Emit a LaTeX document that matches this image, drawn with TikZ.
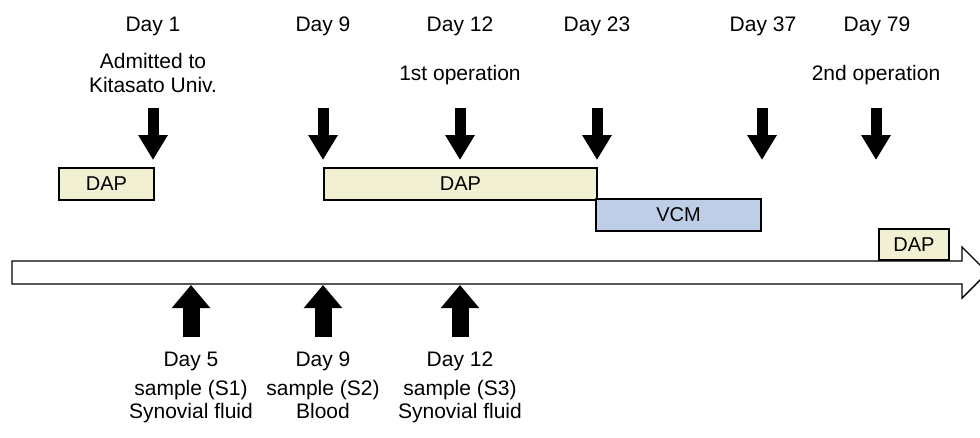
\documentclass[tikz,border=0pt]{standalone}
\usepackage{fontspec}
\setmainfont{Liberation Sans}
\usetikzlibrary{arrows.meta}

\definecolor{dapfill}{RGB}{242,240,210}
\definecolor{vcmfill}{RGB}{190,206,230}

\begin{document}
\begin{tikzpicture}[x=1pt,y=-1pt,
    font=\fontsize{21}{24}\selectfont,
    drug/.style={draw,line width=1.6pt,inner sep=0pt,font=\fontsize{20}{24}\selectfont},
    down/.style={line width=11pt,-{Triangle[width=28pt,length=25pt]}},
    up/.style={line width=17pt,-{Triangle[width=37pt,length=23pt]}}]

        \clip (0,0) rectangle (980,437);

        % time line
        \draw[line width=1.4pt,fill=white] (12,261) -- (962,261) -- (962,247)
          -- (987.5,272.5) -- (962,298) -- (962,284) -- (12,284) -- cycle;

        % drugs
        \begin{scope}[every node/.style={drug}]
          \node[fill=dapfill,minimum width=95pt,minimum height=32pt]  (dap1) at (106.5,184) {DAP};
          \node[fill=dapfill,minimum width=273pt,minimum height=32pt] (dap2) at (460.5,184) {DAP};
          \node[fill=vcmfill,minimum width=165pt,minimum height=32pt] (vcm)  at (678.5,215) {VCM};
          \node[fill=dapfill,minimum width=70pt,minimum height=31pt]  (dap3) at (914,244.5) {DAP};
        \end{scope}

        % events above the line
        \begin{scope}[every node/.style={anchor=base}]
          \node (day1)  at (153,31) {Day 1};
          \node (day9)  at (323,31) {Day 9};
          \node (day12) at (460,31) {Day 12};
          \node (day23) at (597,31) {Day 23};
          \node (day37) at (763,31) {Day 37};
          \node (day79) at (877,31) {Day 79};
          \node (adm1)  at (153,68) {Admitted to};
          \node (adm2)  at (153,92) {Kitasato Univ.};
          \node (op1)   at (460,80) {1st operation};
          \node (op2)   at (876,80) {2nd operation};
        \end{scope}

        \foreach \n/\x in {a/153,b/323,c/460,d/597,e/762,f/876} {
          \coordinate (\n-top) at (\x,108);
          \coordinate (\n-tip) at (\x,160);
          \draw[down] (\n-top) -- (\n-tip);
        }

        % samples below the line
        \begin{scope}[every node/.style={anchor=base}]
          \node (day5)   at (191,366) {Day 5};
          \node (sday9)  at (323,366) {Day 9};
          \node (sday12) at (460,366) {Day 12};
          \node (s1)  at (191,395) {sample (S1)};
          \node (s2)  at (323,395) {sample (S2)};
          \node (s3)  at (460,395) {sample (S3)};
          \node (f1)  at (191,418) {Synovial fluid};
          \node (f2)  at (323,418) {Blood};
          \node (f3)  at (460,418) {Synovial fluid};
        \end{scope}

        \foreach \n/\x in {s/191,t/323,u/460} {
          \coordinate (\n-bot) at (\x,337);
          \coordinate (\n-tip) at (\x,285);
          \draw[up] (\n-bot) -- (\n-tip);
        }

      \end{tikzpicture}
\end{document}
